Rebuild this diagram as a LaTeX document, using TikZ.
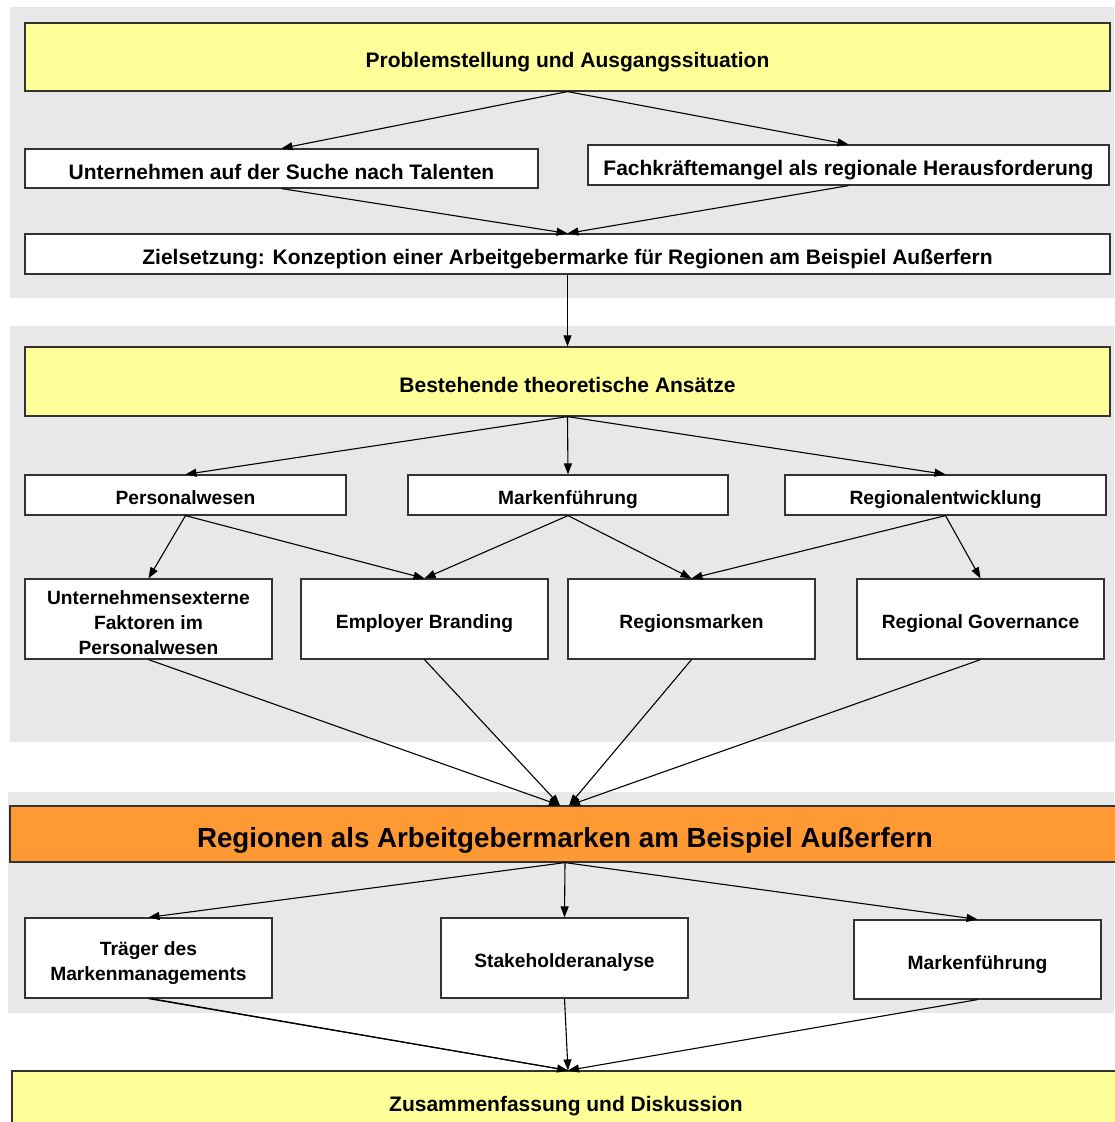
\documentclass[tikz,border=0pt]{standalone}
\usepackage{fontspec}
\setmainfont{Liberation Sans}
\usetikzlibrary{arrows.meta}
\definecolor{panelgray}{HTML}{E8E8E8}
\definecolor{boxyellow}{HTML}{FFFF99}
\definecolor{boxorange}{HTML}{FF9933}
\definecolor{boxline}{HTML}{333333}
% extra height for the first line of a stacked label
\newcommand{\firstlinestrut}{\rule{0pt}{20pt}}
\tikzset{
  panel/.style={fill=panelgray, draw=none},
  box/.style={draw=boxline, line width=1.2pt, fill=white, inner sep=0pt,
    align=center, text depth=0pt, font=\fontsize{19.2}{25}\selectfont\bfseries,
    execute at begin node={\rule{0pt}{1em}}},
  widebox/.style={box, font=\fontsize{21}{25}\selectfont\bfseries},
  headbox/.style={widebox, fill=boxyellow},
  centrebox/.style={box, fill=boxorange, font=\fontsize{27.7}{30}\selectfont\bfseries,
    execute at begin node={\rule{0pt}{0.8em}}},
  link/.style={line width=1.1pt, -{Triangle[length=11pt,width=8pt]}},
  plainlink/.style={line width=1.1pt}
}
\begin{document}
\begin{tikzpicture}[x=1pt, y=-1pt]
  \useasboundingbox (0,0) rectangle (1114,1122);
  \fill[white] (0,0) rectangle (1114,1122);

  % background panels
  \path[panel] (10,7) rectangle (1114,298);
  \path[panel] (10,326) rectangle (1114,742);
  \path[panel] (8,792) rectangle (1114,1013);

  % part 1: problem statement and objective
  \node[headbox, minimum width=1085pt, minimum height=68pt] (prob) at (567.5,57) {Problemstellung und Ausgangssituation};
  \node[widebox, minimum width=513pt, minimum height=39pt] (firms) at (281.5,168.5) {Unternehmen auf der Suche nach Talenten};
  \node[widebox, minimum width=521pt, minimum height=40pt] (skills) at (848.5,165) {Fachkräftemangel als regionale Herausforderung};
  \node[widebox, minimum width=1085pt, minimum height=40pt] (goal) at (567.5,254) {Zielsetzung: Konzeption einer Arbeitgebermarke für Regionen am Beispiel Außerfern};

  % part 2: theoretical approaches
  \node[headbox, minimum width=1085pt, minimum height=69pt] (theory) at (567.5,381.5) {Bestehende theoretische Ansätze};
  \node[box, minimum width=321pt, minimum height=40pt] (hr) at (185.5,495) {Personalwesen};
  \node[box, minimum width=320pt, minimum height=40pt] (brand) at (568,495) {Markenführung};
  \node[box, minimum width=321pt, minimum height=40pt] (regdev) at (945.5,495) {Regionalentwicklung};
  \node[box, minimum width=247pt, minimum height=80pt] (ext) at (148.5,619) {\firstlinestrut Unternehmensexterne\\Faktoren im\\Personalwesen};
  \node[box, minimum width=247pt, minimum height=80pt] (eb) at (424.5,619) {Employer Branding};
  \node[box, minimum width=247pt, minimum height=80pt] (rb) at (691.5,619) {Regionsmarken};
  \node[box, minimum width=247pt, minimum height=80pt] (gov) at (980.5,619) {Regional Governance};

  % part 3: the region as employer brand
  \node[centrebox, minimum width=1110pt, minimum height=56pt] (core) at (565,834) {Regionen als Arbeitgebermarken am Beispiel Außerfern};
  \node[box, minimum width=247pt, minimum height=80pt] (carrier) at (148.5,958) {\firstlinestrut Träger des\\Markenmanagements};
  \node[box, minimum width=247pt, minimum height=80pt] (stake) at (564.5,958) {Stakeholderanalyse};
  \node[box, minimum width=247pt, minimum height=79pt] (mgmt) at (977.5,959.5) {Markenführung};

  % summary
  \node[headbox, minimum width=1108pt, minimum height=60pt] (summary) at (566,1101) {Zusammenfassung und Diskussion};

  % connectors
  \draw[link] (prob.south) -- (firms.north);
  \draw[link] (prob.south) -- (skills.north);
  \draw[link] (firms.south) -- (goal.north);
  \draw[link] (skills.south) -- (goal.north);
  \draw[link] (goal.south) -- (theory.north);

  \draw[link] (theory.south) -- (hr.north);
  \draw[link] (theory.south) -- (brand.north);
  \draw[link] (theory.south) -- (regdev.north);
  \draw[link] (hr.south) -- (ext.north);
  \draw[link] (hr.south) -- (eb.north);
  \draw[link] (brand.south) -- (eb.north);
  \draw[link] (brand.south) -- (rb.north);
  \draw[link] (regdev.south) -- (rb.north);
  \draw[link] (regdev.south) -- (gov.north);

  \coordinate (inL) at ([xshift=-5pt]core.north);
  \coordinate (inR) at ([xshift=4pt]core.north);
  \draw[link] (ext.south) -- (inL);
  \draw[link] (eb.south) -- (inL);
  \draw[link] (rb.south) -- (inR);
  \draw[link] (gov.south) -- (inR);

  \draw[link] (core.south) -- (carrier.north);
  \draw[link] (core.south) -- (stake.north);
  \draw[link] (core.south) -- (mgmt.north);

  \coordinate (sumin) at ([xshift=2pt]summary.north);
  \draw[plainlink] ([xshift=3pt]carrier.south) -- (sumin);
  \draw[link] (carrier.south) -- (sumin);
  \draw[link] (stake.south) -- (sumin);
  \draw[link] (mgmt.south) -- (sumin);
\end{tikzpicture}
\end{document}
